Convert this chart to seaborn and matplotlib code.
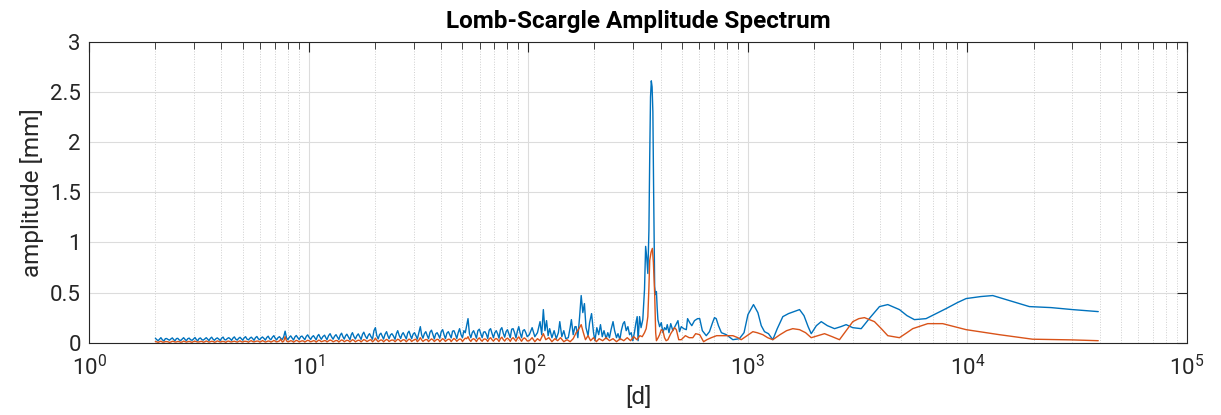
import matplotlib
matplotlib.use("Agg")
import matplotlib.pyplot as plt
import matplotlib.ticker as mticker
import seaborn as sns
import pandas as pd

# Data
###############################################################################

# dense, noisy part of the spectrum (periods 2 - 100 d), shared period grid
period_noise = [
    2.0, 2.06, 2.12, 2.19, 2.25, 2.32, 2.39, 2.46, 2.53, 2.61,
    2.69, 2.77, 2.85, 2.94, 3.03, 3.12, 3.21, 3.31, 3.41, 3.51,
    3.61, 3.72, 3.83, 3.95, 4.07, 4.19, 4.32, 4.45, 4.58, 4.72,
    4.86, 5.0, 5.15, 5.31, 5.47, 5.63, 5.8, 5.98, 6.15, 6.34,
    6.53, 6.72, 6.93, 7.13, 7.35, 7.57, 7.8, 8.03, 8.27, 8.52,
    8.77, 9.04, 9.31, 9.59, 9.88, 10.2, 10.5, 10.8, 11.1, 11.4,
    11.8, 12.1, 12.5, 12.9, 13.3, 13.7, 14.1, 14.5, 14.9, 15.4,
    15.8, 16.3, 16.8, 17.3, 17.8, 18.4, 18.9, 19.5, 20.1, 20.7,
    21.3, 21.9, 22.6, 23.2, 23.9, 24.7, 25.4, 26.2, 26.9, 27.8,
    28.6, 29.4, 30.3, 31.2, 32.2, 33.1, 34.1, 35.1, 36.2, 37.3,
    38.4, 39.5, 40.7, 41.9, 43.2, 44.5, 45.8, 47.2, 48.6, 50.1,
    51.6, 53.1, 54.7, 56.3, 58.0, 59.8, 61.6, 63.4, 65.3, 67.3,
    69.3, 71.4, 73.5, 75.7, 78.0, 80.3, 82.7, 85.2, 87.8, 90.4,
    93.1, 95.9, 98.8]

amp_blue_noise = [
    0.045, 0.02, 0.05, 0.018, 0.042, 0.025, 0.048, 0.02, 0.044, 0.022,
    0.05, 0.02, 0.046, 0.024, 0.052, 0.019, 0.047, 0.026, 0.05, 0.021,
    0.055, 0.024, 0.048, 0.022, 0.056, 0.027, 0.05, 0.023, 0.058, 0.026,
    0.054, 0.025, 0.06, 0.028, 0.055, 0.024, 0.062, 0.03, 0.057, 0.026,
    0.065, 0.03, 0.07, 0.028, 0.06, 0.032, 0.115, 0.03, 0.068, 0.027,
    0.072, 0.032, 0.066, 0.03, 0.078, 0.033, 0.07, 0.029, 0.082, 0.034,
    0.075, 0.03, 0.09, 0.035, 0.08, 0.032, 0.095, 0.036, 0.085, 0.03,
    0.1, 0.037, 0.088, 0.033, 0.105, 0.04, 0.09, 0.035, 0.15, 0.038,
    0.095, 0.036, 0.11, 0.04, 0.09, 0.034, 0.12, 0.042, 0.1, 0.038,
    0.115, 0.04, 0.1, 0.036, 0.16, 0.045, 0.11, 0.04, 0.125, 0.038,
    0.1, 0.045, 0.13, 0.04, 0.11, 0.048, 0.12, 0.042, 0.14, 0.05,
    0.1, 0.24, 0.05, 0.12, 0.045, 0.135, 0.05, 0.11, 0.042, 0.14,
    0.05, 0.12, 0.045, 0.15, 0.055, 0.13, 0.05, 0.14, 0.048, 0.16,
    0.05, 0.13, 0.06]

amp_orange_noise = [
    0.012, 0.004, 0.015, 0.006, 0.011, 0.003, 0.014, 0.007, 0.012, 0.005,
    0.016, 0.006, 0.013, 0.004, 0.015, 0.007, 0.012, 0.005, 0.017, 0.006,
    0.014, 0.005, 0.018, 0.007, 0.013, 0.004, 0.016, 0.008, 0.015, 0.006,
    0.019, 0.007, 0.014, 0.005, 0.02, 0.008, 0.016, 0.006, 0.021, 0.007,
    0.017, 0.006, 0.022, 0.008, 0.018, 0.007, 0.06, 0.009, 0.02, 0.006,
    0.023, 0.008, 0.019, 0.007, 0.024, 0.009, 0.02, 0.006, 0.026, 0.01,
    0.021, 0.008, 0.027, 0.009, 0.022, 0.007, 0.028, 0.01, 0.024, 0.008,
    0.03, 0.009, 0.025, 0.008, 0.031, 0.011, 0.026, 0.009, 0.045, 0.01,
    0.028, 0.009, 0.033, 0.012, 0.027, 0.01, 0.035, 0.011, 0.03, 0.009,
    0.036, 0.012, 0.031, 0.01, 0.05, 0.013, 0.032, 0.011, 0.038, 0.012,
    0.034, 0.01, 0.04, 0.013, 0.035, 0.011, 0.042, 0.014, 0.037, 0.012,
    0.045, 0.06, 0.013, 0.04, 0.011, 0.048, 0.014, 0.038, 0.012, 0.05,
    0.015, 0.042, 0.012, 0.055, 0.016, 0.045, 0.013, 0.05, 0.015, 0.058,
    0.014, 0.048, 0.017]

# extra samples of the noisy part, lying between the ones above
period_noise_mid = [
    2.03, 2.09, 2.155, 2.22, 2.285, 2.355, 2.425, 2.495, 2.57, 2.65,
    2.73, 2.81, 2.895, 2.985, 3.075, 3.165, 3.26, 3.36, 3.46, 3.56,
    3.665, 3.775, 3.89, 4.01, 4.13, 4.255, 4.385, 4.515, 4.65, 4.79,
    4.93, 5.075, 5.23, 5.39, 5.55, 5.715, 5.89, 6.065, 6.245, 6.435,
    6.625, 6.825, 7.03, 7.24, 7.46, 7.685, 7.915, 8.15, 8.395, 8.645,
    8.905, 9.175, 9.45, 9.735, 10.04, 10.35, 10.65, 10.95, 11.25, 11.6,
    11.95, 12.3, 12.7, 13.1, 13.5, 13.9, 14.3, 14.7, 15.15, 15.6,
    16.05, 16.55, 17.05, 17.55, 18.1, 18.65, 19.2, 19.8, 20.4, 21.0,
    21.6, 22.25, 22.9, 23.55, 24.3, 25.05, 25.8, 26.55, 27.35, 28.2,
    29.0, 29.85, 30.75, 31.7, 32.65, 33.6, 34.6, 35.65, 36.75, 37.85,
    38.95, 40.1, 41.3, 42.55, 43.85, 45.15, 46.5, 47.9, 49.35, 50.85,
    52.35, 53.9, 55.5, 57.15, 58.9, 60.7, 62.5, 64.35, 66.3, 68.3,
    70.35, 72.45, 74.6, 76.85, 79.15, 81.5, 83.95, 86.5, 89.1, 91.75,
    94.5, 97.35]

amp_blue_noise_mid = [
    0.03, 0.035, 0.028, 0.04, 0.032, 0.038, 0.03, 0.041, 0.027, 0.036,
    0.033, 0.04, 0.029, 0.037, 0.031, 0.042, 0.03, 0.038, 0.035, 0.043,
    0.034, 0.04, 0.036, 0.045, 0.031, 0.042, 0.038, 0.046, 0.035, 0.044,
    0.04, 0.048, 0.036, 0.045, 0.041, 0.05, 0.038, 0.047, 0.043, 0.052,
    0.04, 0.055, 0.045, 0.05, 0.042, 0.06, 0.048, 0.054, 0.046, 0.058,
    0.05, 0.06, 0.047, 0.063, 0.052, 0.058, 0.05, 0.066, 0.055, 0.062,
    0.05, 0.07, 0.058, 0.064, 0.055, 0.075, 0.06, 0.068, 0.057, 0.078,
    0.062, 0.07, 0.06, 0.082, 0.065, 0.074, 0.06, 0.12, 0.07, 0.08,
    0.064, 0.085, 0.07, 0.078, 0.066, 0.09, 0.072, 0.082, 0.068, 0.095,
    0.075, 0.085, 0.07, 0.1, 0.078, 0.09, 0.072, 0.105, 0.08, 0.088,
    0.075, 0.11, 0.08, 0.095, 0.078, 0.115, 0.085, 0.1, 0.08, 0.12,
    0.17, 0.09, 0.1, 0.085, 0.12, 0.09, 0.105, 0.085, 0.125, 0.092,
    0.1, 0.088, 0.13, 0.095, 0.11, 0.09, 0.135, 0.1, 0.115, 0.095,
    0.12, 0.1]

amp_orange_noise_mid = [
    0.008, 0.01, 0.006, 0.011, 0.009, 0.007, 0.012, 0.008, 0.01, 0.007,
    0.011, 0.009, 0.008, 0.012, 0.01, 0.008, 0.013, 0.009, 0.011, 0.01,
    0.012, 0.009, 0.013, 0.011, 0.01, 0.014, 0.009, 0.012, 0.011, 0.013,
    0.01, 0.014, 0.012, 0.015, 0.011, 0.013, 0.016, 0.012, 0.014, 0.011,
    0.015, 0.013, 0.016, 0.012, 0.035, 0.014, 0.017, 0.013, 0.016, 0.014,
    0.018, 0.013, 0.017, 0.015, 0.019, 0.014, 0.018, 0.016, 0.02, 0.015,
    0.019, 0.017, 0.021, 0.016, 0.02, 0.018, 0.022, 0.017, 0.021, 0.019,
    0.023, 0.018, 0.022, 0.02, 0.024, 0.019, 0.03, 0.021, 0.025, 0.02,
    0.024, 0.022, 0.026, 0.021, 0.025, 0.023, 0.028, 0.022, 0.027, 0.024,
    0.029, 0.023, 0.035, 0.025, 0.028, 0.024, 0.03, 0.026, 0.029, 0.025,
    0.031, 0.027, 0.03, 0.026, 0.033, 0.028, 0.032, 0.027, 0.034, 0.03,
    0.04, 0.029, 0.033, 0.03, 0.036, 0.028, 0.034, 0.031, 0.038, 0.03,
    0.035, 0.032, 0.04, 0.031, 0.037, 0.033, 0.039, 0.032, 0.042, 0.034,
    0.038, 0.036]

# long-period part, blue series
period_blue = [
    101, 104, 107, 110, 113, 115, 117, 119, 121, 123, 125, 128, 131, 134,
    137, 139, 142, 145, 148, 152, 155, 157, 160, 163, 165, 168, 171, 174,
    177, 180, 183, 187, 190, 194, 198, 201, 205, 209, 213, 217, 221, 226,
    230, 234, 238, 243, 247, 252, 256, 261, 265, 270, 274, 279, 284, 289,
    294, 299, 304, 309, 313, 316, 321, 326, 332, 338, 342, 346, 350, 354,
    357, 360, 363, 366, 369, 372, 376, 379, 383, 386, 389, 396, 403, 410,
    417, 424, 429, 437, 445, 455, 465, 480, 488, 497, 510, 524, 531, 543,
    555, 571, 590, 603, 620, 646, 668, 690, 704, 717, 734, 757, 797, 854,
    914, 960, 1000, 1060, 1110, 1150, 1190, 1240, 1298, 1360, 1442, 1530,
    1620, 1718, 1800, 1880, 1942, 2050, 2157, 2300, 2480, 2650, 2801, 3000,
    3280, 3600, 3973, 4335, 4898, 5300, 5730, 6477, 7200, 7990, 9000, 9860,
    11500, 13030, 15500, 19130, 24000, 30100, 39400]
amp_blue = [
    0.08, 0.15, 0.06, 0.1, 0.21, 0.08, 0.33, 0.12, 0.22, 0.07, 0.14, 0.05, 0.12, 0.04,
    0.1, 0.21, 0.06, 0.12, 0.04, 0.05, 0.15, 0.23, 0.08, 0.16, 0.16, 0.05, 0.25, 0.47,
    0.3, 0.39, 0.15, 0.07, 0.2, 0.29, 0.1, 0.02, 0.15, 0.08, 0.18, 0.06, 0.12, 0.04,
    0.1, 0.05, 0.13, 0.21, 0.12, 0.05, 0.09, 0.03, 0.12, 0.19, 0.21, 0.12, 0.16, 0.08,
    0.1, 0.02, 0.1, 0.2, 0.26, 0.02, 0.26, 0.15, 0.23, 0.53, 0.96, 0.85, 0.69, 1.12,
    1.85, 2.45, 2.61, 2.55, 2.3, 1.5, 0.56, 0.48, 0.51, 0.35, 0.23, 0.16, 0.2, 0.1,
    0.15, 0.13, 0.18, 0.1, 0.19, 0.12, 0.16, 0.22, 0.11, 0.16, 0.14, 0.13, 0.24, 0.2,
    0.17, 0.22, 0.24, 0.24, 0.12, 0.07, 0.11, 0.2, 0.25, 0.24, 0.17, 0.1, 0.08, 0.03,
    0.04, 0.1, 0.28, 0.38, 0.3, 0.17, 0.11, 0.09, 0.03, 0.14, 0.26, 0.29,
    0.31, 0.33, 0.27, 0.16, 0.09, 0.17, 0.21, 0.17, 0.14, 0.16, 0.18, 0.15,
    0.14, 0.25, 0.36, 0.38, 0.33, 0.27, 0.23, 0.24, 0.29, 0.34, 0.4, 0.44,
    0.46, 0.47, 0.42, 0.36, 0.35, 0.33, 0.31]

# long-period part, orange series
period_orange = [
    101, 104, 107, 110, 113, 117, 120, 124, 128, 132, 136, 140, 145, 150,
    155, 160, 165, 170, 174, 178, 182, 187, 192, 198, 204, 210, 218, 226,
    234, 243, 252, 262, 272, 282, 292, 302, 312, 322, 330, 338, 344, 350,
    354, 357, 362, 367, 371, 376, 380, 383, 390, 396, 403, 410, 417, 424,
    432, 445, 463, 472, 484, 497, 519, 540, 561, 578, 603, 628, 650, 681,
    720, 756, 800, 854, 900, 932, 990, 1053, 1100, 1169, 1230, 1298, 1400,
    1500, 1600, 1718, 1830, 1942, 2080, 2233, 2420, 2612, 2800, 3004, 3200,
    3394, 3769, 4050, 4335, 4898, 5300, 5630, 6590, 7710, 8700, 9860,
    13970, 19770, 30000, 39400]
amp_orange = [
    0.02, 0.05, 0.01, 0.04, 0.02, 0.09, 0.03, 0.05, 0.01, 0.04, 0.02, 0.05, 0.01, 0.03,
    0.01, 0.04, 0.1, 0.14, 0.18, 0.1, 0.03, 0.07, 0.02, 0.05, 0.01, 0.04, 0.02, 0.05,
    0.02, 0.04, 0.01, 0.04, 0.02, 0.05, 0.02, 0.06, 0.03, 0.07, 0.06, 0.1, 0.14, 0.26,
    0.55, 0.82, 0.9, 0.94, 0.8, 0.49, 0.1, 0.02, 0.05, 0.08, 0.13, 0.12, 0.05, 0.02,
    0.03, 0.09, 0.15, 0.13, 0.03, 0.03, 0.07, 0.05, 0.05, 0.09, 0.08, 0.01, 0.03, 0.05,
    0.07, 0.07, 0.07, 0.07, 0.05, 0.03, 0.07, 0.11, 0.1, 0.08, 0.05, 0.03, 0.08,
    0.12, 0.14, 0.13, 0.1, 0.05, 0.07, 0.09, 0.06, 0.03, 0.12, 0.21, 0.24,
    0.25, 0.21, 0.14, 0.07, 0.05, 0.1, 0.14, 0.19, 0.19, 0.16, 0.13,
    0.08, 0.035, 0.028, 0.02]

yticks = [0, 0.5, 1, 1.5, 2, 2.5, 3]

df_blue = pd.DataFrame({'period': period_noise + period_noise_mid + period_blue,
                        'amp': amp_blue_noise + amp_blue_noise_mid + amp_blue})
df_orange = pd.DataFrame({'period': period_noise + period_noise_mid + period_orange,
                          'amp': amp_orange_noise + amp_orange_noise_mid + amp_orange})
df_blue = df_blue.sort_values('period')
df_orange = df_orange.sort_values('period')

# Style
###############################################################################

sns.set_theme(style='white')
plt.rcParams['font.family'] = ['Roboto', 'DejaVu Sans']
plt.rcParams['mathtext.fontset'] = 'custom'
plt.rcParams['mathtext.rm'] = 'Roboto'
plt.rcParams['mathtext.it'] = 'Roboto'

fig = plt.figure(figsize=(12.21, 4.15), dpi=100)
ax = fig.add_axes([0.0731, 0.1742, 0.8991, 0.7253])

sns.lineplot(data=df_blue, x='period', y='amp', ax=ax, color='#0072BD',
             linewidth=1.0, estimator=None, sort=False)
sns.lineplot(data=df_orange, x='period', y='amp', ax=ax, color='#D95319',
             linewidth=1.0, estimator=None, sort=False)

ax.set_xscale('log')
ax.set_xlim(1, 1e5)
ax.set_ylim(0, 3)
ax.set_yticks(yticks)
ax.yaxis.set_major_formatter(mticker.FormatStrFormatter('%g'))
ax.xaxis.set_major_locator(mticker.LogLocator(base=10, numticks=10))
ax.xaxis.set_minor_locator(mticker.LogLocator(base=10, subs=range(2, 10), numticks=20))
ax.xaxis.set_minor_formatter(mticker.NullFormatter())

ax.grid(True, which='major', axis='both', color='#dcdcdc', linewidth=0.8, linestyle='-')
ax.grid(True, which='minor', axis='x', color='#cfcfcf', linewidth=0.7, linestyle=':')
ax.set_axisbelow(True)

for s in ax.spines.values():
    s.set_color('#262626')
    s.set_linewidth(0.8)
ax.tick_params(which='both', direction='in', top=True, right=True,
               colors='#262626', labelcolor='#262626', labelsize=16)
ax.tick_params(which='major', length=7, width=0.8)
ax.tick_params(which='minor', length=5, width=0.6)
ax.tick_params(axis='x', which='major', pad=9)
ax.tick_params(axis='y', which='major', pad=6)

ax.set_xlabel('[d]', fontsize=17.5, color='#262626', labelpad=4)
ax.set_ylabel('amplitude [mm]', fontsize=17.5, color='#262626', labelpad=4)
ax.set_title('Lomb-Scargle Amplitude Spectrum', fontsize=17.5, fontweight='bold',
             color='black', pad=10)

plt.savefig('out.png', dpi=100)
